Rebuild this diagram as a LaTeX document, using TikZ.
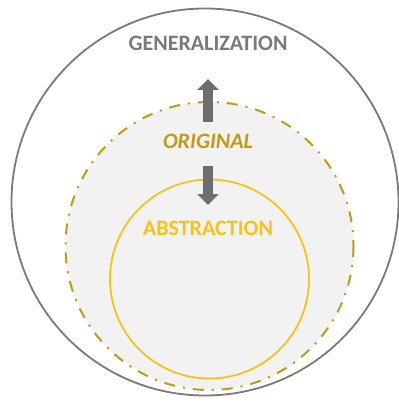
\documentclass[tikz,border=0pt]{standalone}
\usepackage{fontspec}
\setmainfont{Carlito}
\usetikzlibrary{arrows.meta}
\definecolor{outergray}{HTML}{7A7A7A}
\definecolor{fillgray}{HTML}{F2F2F2}
\definecolor{dashgold}{HTML}{C09A18}
\definecolor{ringyellow}{HTML}{F8C21A}
\definecolor{arrowgray}{HTML}{6E6E6E}
\tikzset{
  px/.style={x=1pt,y=-1pt},
  lbl/.style={font=\fontsize{22}{26}\selectfont\bfseries, inner sep=0pt},
  bigarrow/.style={arrowgray, line width=10pt, -{Triangle[width=21pt,length=11pt]}}
}
\begin{document}
\begin{tikzpicture}[px]
\useasboundingbox (0,0) rectangle (398,403);
\draw[outergray, line width=1.8pt] (205,202) circle[radius=193.5];
\draw[dashgold, line width=2pt, fill=fillgray, dash pattern=on 11pt off 8pt on 2pt off 8pt] (209.5,246) circle[radius=144];
\draw[ringyellow, line width=1.8pt] (209.5,279) circle[radius=99.5];
\node[lbl, text=outergray] (gen) at (208,43) {GENERALIZATION};
\node[lbl, text=dashgold] (orig) at (208,141) {\itshape ORIGINAL};
\node[lbl, text=ringyellow] (abs) at (208,228) {ABSTRACTION};
\coordinate (upS) at (208,122);
\coordinate (upE) at (208,79);
\coordinate (dnS) at (208,166);
\coordinate (dnE) at (208,205);
\draw[bigarrow] (upS) -- (upE);
\draw[bigarrow] (dnS) -- (dnE);
\end{tikzpicture}
\end{document}
